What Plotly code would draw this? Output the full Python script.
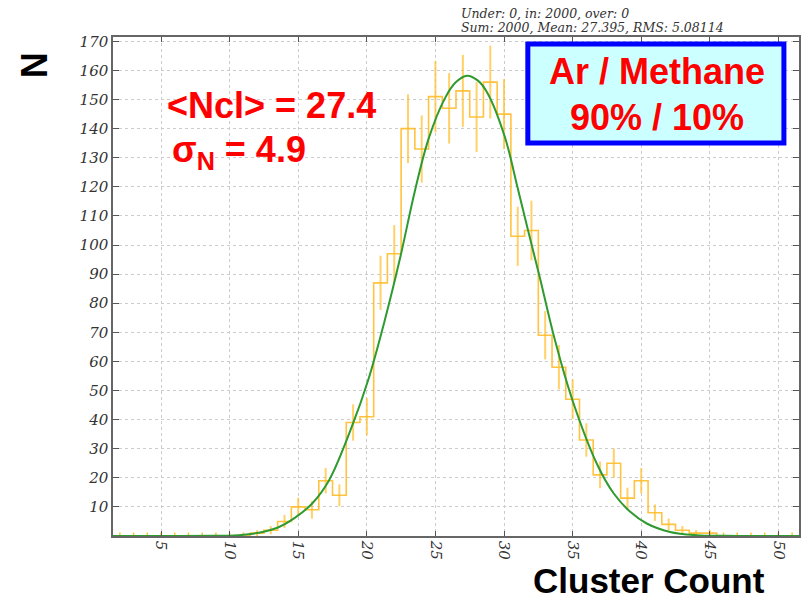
import numpy as np
import plotly.graph_objects as go

# ---- data ----
bin_centers = list(range(2, 52))
counts = [0, 0, 0, 0, 0, 0, 0, 0, 0, 0,      # 2..11
          1, 2, 5, 10, 9, 19, 14, 39, 41, 87,  # 12..21
          97, 140, 133, 151, 147, 153, 144, 156, 145, 103,  # 22..31
          105, 69, 58, 47, 33, 21, 25, 13, 19, 8,  # 32..41
          4, 2, 1, 1, 0, 0, 0, 0, 0, 0]        # 42..51
count_errors = np.sqrt(np.array(counts, dtype=float))  # Poisson errors of the counts

fit_x = [1.5, 6, 9, 10, 11.2, 12.4, 13.6, 14.8, 16.0, 17.25, 18.9, 20.1, 21.3, 22.4,
         23.5, 24.5, 25.7, 26.5, 27.3, 28.1, 28.8, 30.05, 31.0, 31.7, 32.6, 33.7, 35.0,
         36.8, 38.0, 39.2, 40.4, 42.1, 44.0, 46, 51.5]
fit_y = [0, 0, 0.05, 0.1, 0.5, 1.4, 3.1, 6.4, 11.1, 19.2, 37.5, 53.6, 74, 95,
         118.5, 136.5, 150.5, 156, 158.2, 156.5, 152.2, 137.3, 119.5, 106, 89, 67.5, 46.5,
         24.5, 14.6, 8.3, 4.3, 1.4, 0.3, 0.05, 0]

x_ticks = [5, 10, 15, 20, 25, 30, 35, 40, 45, 50]
y_ticks = [10, 20, 30, 40, 50, 60, 70, 80, 90, 100, 110, 120, 130, 140, 150, 160, 170]

stats_line1 = "Under: 0, in: 2000, over: 0"
stats_line2 = "Sum: 2000, Mean: 27.395, RMS: 5.08114"
mean_label = "<Ncl> = 27.4"
sigma_label = "σ<sub>N</sub> = 4.9"
gas_line1 = "Ar / Methane"
gas_line2 = "90% / 10%"
x_title = "Cluster Count"
y_title = "N"

ORANGE = "rgba(255,184,30,0.85)"
ORANGE_ERR = "rgba(255,190,40,0.7)"
GREEN = "#2f9a2f"
RED = "#ff0000"

fig = go.Figure()

# histogram outline
fig.add_trace(go.Scatter(x=bin_centers, y=counts, mode="lines", line_shape="hvh",
                         line=dict(color=ORANGE, width=1.6), hoverinfo="skip"))
# error bars
fig.add_trace(go.Scatter(x=bin_centers, y=counts, mode="markers",
                         marker=dict(size=1, color="rgba(0,0,0,0)"),
                         error_y=dict(type="data", array=count_errors, visible=True,
                                      color=ORANGE_ERR, thickness=2, width=0),
                         hoverinfo="skip"))
# tiny markers for empty bins
zero_x = [b for b, c in zip(bin_centers, counts) if c == 0]
fig.add_trace(go.Scatter(x=zero_x, y=[0] * len(zero_x), mode="markers",
                         marker=dict(symbol="line-ns", size=5,
                                     line=dict(color=ORANGE, width=1.5)),
                         hoverinfo="skip"))
# fit curve
fig.add_trace(go.Scatter(x=fit_x, y=fit_y, mode="lines", line_shape="spline",
                         line=dict(color=GREEN, width=2, smoothing=1.0),
                         hoverinfo="skip"))

tickfont = dict(family="DejaVu Serif", size=15, color="#333333", style="italic")

fig.update_layout(
    width=809, height=601,
    margin=dict(l=113, r=8, t=37, b=65),
    paper_bgcolor="white", plot_bgcolor="white",
    showlegend=False,
    xaxis=dict(range=[1.5, 51.5], tickvals=x_ticks, ticktext=[str(v) for v in x_ticks],
               tickangle=90, ticks="inside", ticklen=5, tickcolor="#555",
               showline=True, linecolor="#666", linewidth=1.5, mirror="ticks",
               showgrid=True, gridcolor="#cccccc", griddash="dot", gridwidth=1,
               zeroline=False, tickfont=tickfont),
    yaxis=dict(range=[0, 171.5], tickvals=y_ticks, ticktext=[str(v) for v in y_ticks],
               ticks="inside", ticklen=6, tickcolor="#555",
               showline=True, linecolor="#666", linewidth=1.5, mirror="ticks",
               showgrid=True, gridcolor="#cccccc", griddash="dot", gridwidth=1,
               zeroline=False, tickfont=tickfont),
)

big = dict(family="Liberation Sans, Arial", size=36, color=RED, weight="bold")

fig.add_shape(type="rect", xref="paper", yref="paper",
              x0=0.6047, x1=0.978, y0=0.7876, y1=0.986,
              fillcolor="#ccffff", line=dict(color="#0000ff", width=5), layer="above")

ann = [
    dict(text=mean_label, x=0.0756, y=0.862, xanchor="left", yanchor="middle", font=big),
    dict(text=sigma_label, x=0.0828, y=0.770, xanchor="left", yanchor="middle", font=big),
    dict(text=gas_line1, x=0.7936, y=0.930, xanchor="center", yanchor="middle", font=big),
    dict(text=gas_line2, x=0.7936, y=0.838, xanchor="center", yanchor="middle", font=big),
    dict(text=x_title, x=0.7820, y=-0.090, xanchor="center", yanchor="middle",
         font=dict(family="Liberation Sans, Arial", size=35, color="black", weight="bold")),
    dict(text=y_title, x=-0.1134, y=0.944, xanchor="center", yanchor="middle", textangle=-90,
         font=dict(family="Liberation Sans, Arial", size=36, color="black", weight="bold")),
    dict(text=stats_line1, x=0.504, y=1.048, xanchor="left", yanchor="middle",
         font=dict(family="DejaVu Serif", size=12.5, color="#333333", style="italic")),
    dict(text=stats_line2, x=0.504, y=1.020, xanchor="left", yanchor="middle",
         font=dict(family="DejaVu Serif", size=12.5, color="#333333", style="italic")),
]
for a in ann:
    a.update(xref="paper", yref="paper", showarrow=False)
    fig.add_annotation(**a)

fig.write_html("out.html")
